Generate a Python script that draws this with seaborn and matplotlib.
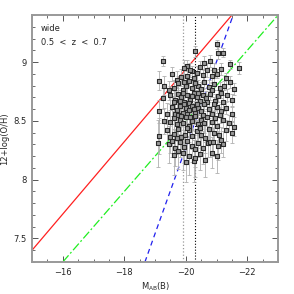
import numpy as np
import pandas as pd
import matplotlib
matplotlib.use("Agg")
import matplotlib.pyplot as plt
import seaborn as sns

# galaxies: (M_AB(B), 12+log(O/H), error on O/H)
band_top = [(-19.25, 9.01, 0.04), (-20.31, 9.09, 0.05), (-21.00, 9.15, 0.04), (-21.05, 9.08, 0.05),
            (-21.20, 9.08, 0.04), (-20.77, 9.01, 0.05), (-20.60, 8.99, 0.06), (-20.05, 8.97, 0.05),
            (-19.95, 8.95, 0.07), (-20.45, 8.96, 0.05), (-21.44, 8.98, 0.04), (-21.74, 8.95, 0.05),
            (-19.54, 8.90, 0.06), (-20.20, 8.92, 0.05), (-20.90, 8.93, 0.06)]
band_89 = [(-19.85, 8.87, 0.07), (-20.05, 8.88, 0.06), (-20.25, 8.86, 0.05), (-20.35, 8.91, 0.06),
           (-20.55, 8.89, 0.05), (-20.70, 8.93, 0.06), (-20.85, 8.88, 0.05), (-21.00, 8.90, 0.04),
           (-21.30, 8.86, 0.05), (-21.15, 8.94, 0.05), (-19.14, 8.84, 0.08), (-19.70, 8.85, 0.07),
           (-20.15, 8.93, 0.06)]
band_88 = [(-19.30, 8.80, 0.08), (-19.60, 8.78, 0.07), (-19.75, 8.82, 0.06), (-19.90, 8.76, 0.07),
           (-20.00, 8.80, 0.06), (-20.10, 8.84, 0.05), (-20.20, 8.78, 0.06), (-20.40, 8.80, 0.05),
           (-20.50, 8.77, 0.06), (-20.60, 8.83, 0.05), (-20.75, 8.79, 0.06), (-20.90, 8.81, 0.05),
           (-21.10, 8.78, 0.05), (-21.25, 8.80, 0.04), (-21.45, 8.83, 0.05), (-19.45, 8.76, 0.08),
           (-20.30, 8.82, 0.06), (-20.85, 8.76, 0.06), (-21.55, 8.77, 0.05), (-19.95, 8.83, 0.07)]
band_87 = [(-19.27, 8.69, 0.09), (-19.50, 8.72, 0.08), (-19.65, 8.68, 0.07), (-19.75, 8.73, 0.07),
           (-19.85, 8.70, 0.06), (-19.95, 8.66, 0.07), (-20.05, 8.72, 0.06), (-20.15, 8.68, 0.06),
           (-20.25, 8.74, 0.05), (-20.35, 8.70, 0.06), (-20.45, 8.67, 0.07), (-20.55, 8.72, 0.05),
           (-20.65, 8.69, 0.06), (-20.80, 8.73, 0.05), (-20.95, 8.67, 0.06), (-21.05, 8.71, 0.05),
           (-21.20, 8.66, 0.06), (-21.35, 8.72, 0.05), (-21.50, 8.68, 0.05), (-19.60, 8.66, 0.08),
           (-19.90, 8.74, 0.06), (-20.10, 8.65, 0.07), (-20.40, 8.74, 0.05), (-20.70, 8.66, 0.06),
           (-21.15, 8.74, 0.05), (-19.80, 8.67, 0.07), (-20.20, 8.71, 0.06)]
band_86 = [(-19.14, 8.58, 0.10), (-19.38, 8.56, 0.09), (-19.55, 8.62, 0.08), (-19.70, 8.59, 0.08),
           (-19.80, 8.63, 0.07), (-19.90, 8.57, 0.08), (-20.00, 8.61, 0.07), (-20.10, 8.59, 0.07),
           (-20.20, 8.63, 0.06), (-20.30, 8.57, 0.07), (-20.40, 8.61, 0.06), (-20.50, 8.58, 0.07),
           (-20.60, 8.64, 0.06), (-20.75, 8.60, 0.06), (-20.85, 8.56, 0.07), (-21.00, 8.62, 0.05),
           (-21.15, 8.58, 0.06), (-21.30, 8.61, 0.05), (-21.50, 8.56, 0.06), (-19.65, 8.56, 0.09),
           (-19.95, 8.64, 0.07), (-20.25, 8.60, 0.07), (-20.55, 8.55, 0.08), (-20.90, 8.64, 0.06),
           (-19.75, 8.55, 0.09), (-20.05, 8.56, 0.08), (-20.35, 8.64, 0.06), (-21.10, 8.55, 0.07)]
band_85 = [(-19.49, 8.49, 0.10), (-19.60, 8.52, 0.09), (-19.70, 8.47, 0.10), (-19.80, 8.51, 0.09),
           (-19.90, 8.48, 0.09), (-20.00, 8.53, 0.08), (-20.10, 8.46, 0.09), (-20.20, 8.50, 0.08),
           (-20.30, 8.54, 0.07), (-20.40, 8.47, 0.09), (-20.50, 8.51, 0.08), (-20.60, 8.48, 0.08),
           (-20.70, 8.53, 0.07), (-20.85, 8.49, 0.08), (-21.00, 8.46, 0.08), (-21.20, 8.51, 0.07),
           (-21.40, 8.48, 0.07), (-19.30, 8.50, 0.11), (-19.85, 8.54, 0.08), (-20.15, 8.53, 0.08),
           (-20.45, 8.45, 0.10), (-20.95, 8.52, 0.07), (-21.55, 8.45, 0.08)]
band_84 = [(-19.14, 8.37, 0.15), (-19.40, 8.42, 0.12), (-19.60, 8.39, 0.12), (-19.75, 8.43, 0.10),
           (-19.85, 8.36, 0.12), (-19.98, 8.38, 0.11), (-20.10, 8.42, 0.10), (-20.20, 8.37, 0.11),
           (-20.35, 8.41, 0.10), (-20.50, 8.38, 0.11), (-20.63, 8.35, 0.12), (-20.75, 8.43, 0.09),
           (-20.90, 8.40, 0.10), (-21.08, 8.38, 0.10), (-21.13, 8.34, 0.11), (-21.30, 8.42, 0.09),
           (-21.50, 8.40, 0.09), (-19.50, 8.36, 0.13), (-20.05, 8.44, 0.10), (-20.45, 8.44, 0.09),
           (-19.70, 8.35, 0.13)]
band_83 = [(-19.11, 8.31, 0.20), (-19.45, 8.30, 0.16), (-19.65, 8.27, 0.15), (-19.80, 8.32, 0.13),
           (-19.95, 8.28, 0.14), (-20.05, 8.33, 0.12), (-20.20, 8.29, 0.14), (-20.40, 8.31, 0.12),
           (-20.55, 8.27, 0.14), (-20.73, 8.31, 0.12), (-20.79, 8.32, 0.13), (-20.89, 8.32, 0.12),
           (-21.03, 8.29, 0.12), (-19.55, 8.33, 0.14), (-20.30, 8.26, 0.15), (-21.20, 8.30, 0.11)]
band_82 = [(-19.63, 8.21, 0.17), (-19.90, 8.23, 0.15), (-20.10, 8.20, 0.16), (-20.27, 8.16, 0.18),
           (-20.30, 8.18, 0.16), (-20.63, 8.17, 0.15), (-20.45, 8.22, 0.14), (-19.75, 8.24, 0.15),
           (-20.00, 8.15, 0.17), (-20.85, 8.23, 0.13), (-21.00, 8.20, 0.14)]

# model relations (end points inside the frame)
red_mag = [-15.0, -21.5]
red_oh = [7.40, 9.40]
green_mag = [-16.0, -23.0]
green_oh = [7.30, 9.40]
blue_mag = [-18.67, -21.54]
blue_oh = [7.30, 9.40]
# magnitude limits
mlim_grey = -19.9
mlim_black = -20.3

rows = band_top + band_89 + band_88 + band_87 + band_86 + band_85 + band_84 + band_83 + band_82
df = pd.DataFrame(rows, columns=["mag", "oh", "err"])

sns.set_style("ticks")
plt.rcParams["font.family"] = ["DejaVu Sans"]

fig = plt.figure(figsize=(2.94, 2.94), dpi=100)
ax = fig.add_axes([0.109, 0.109, 0.837, 0.840])

ax.plot(red_mag, red_oh, color="#ff2020", lw=0.9)
ax.plot(green_mag, green_oh, color="#20ee20", lw=0.9, dashes=[7, 2, 1.5, 2])
ax.plot(blue_mag, blue_oh, color="#2020ee", lw=0.9, dashes=[4, 3])
ax.axvline(mlim_grey, color="#999999", lw=0.9, ls=":")
ax.axvline(mlim_black, color="black", lw=0.8, ls=":")

ax.errorbar(df["mag"], df["oh"], yerr=df["err"], xerr=0.06, fmt="none",
            ecolor="#b0b0b0", elinewidth=0.6, capsize=1.2, capthick=0.6, zorder=3)
sns.scatterplot(data=df, x="mag", y="oh", marker="s", s=10, facecolor="#999999",
                edgecolor="#2a2a2a", linewidth=0.8, ax=ax, zorder=4)

ax.set_xlim(-15, -23)
ax.set_ylim(7.3, 9.4)
ax.set_xticks([-16, -18, -20, -22])
ax.set_xticklabels(["\u221216", "\u221218", "\u221220", "\u221222"])
ax.set_xticks(np.arange(-15, -23.01, -0.5), minor=True)
ax.set_yticks([7.5, 8, 8.5, 9])
ax.set_yticklabels(["7.5", "8", "8.5", "9"])
ax.set_yticks(np.arange(7.3, 9.41, 0.1), minor=True)
ax.tick_params(which="both", direction="in", top=True, right=True,
               labelsize=6, color="#555555", pad=4)
ax.tick_params(which="major", length=4, width=0.7)
ax.tick_params(which="minor", length=2, width=0.6)
for sp in ax.spines.values():
    sp.set_color("#999999")
    sp.set_linewidth(1.4)

ax.set_xlabel("M$_{\\rm AB}$(B)", fontsize=6, labelpad=3)
ax.set_ylabel("12+log(O/H)", fontsize=6, labelpad=3)
ax.text(0.035, 0.935, "wide", transform=ax.transAxes, fontsize=6)
ax.text(0.035, 0.88, "0.5  <  z  <  0.7", transform=ax.transAxes, fontsize=6)

fig.savefig("out.png", dpi=100)
